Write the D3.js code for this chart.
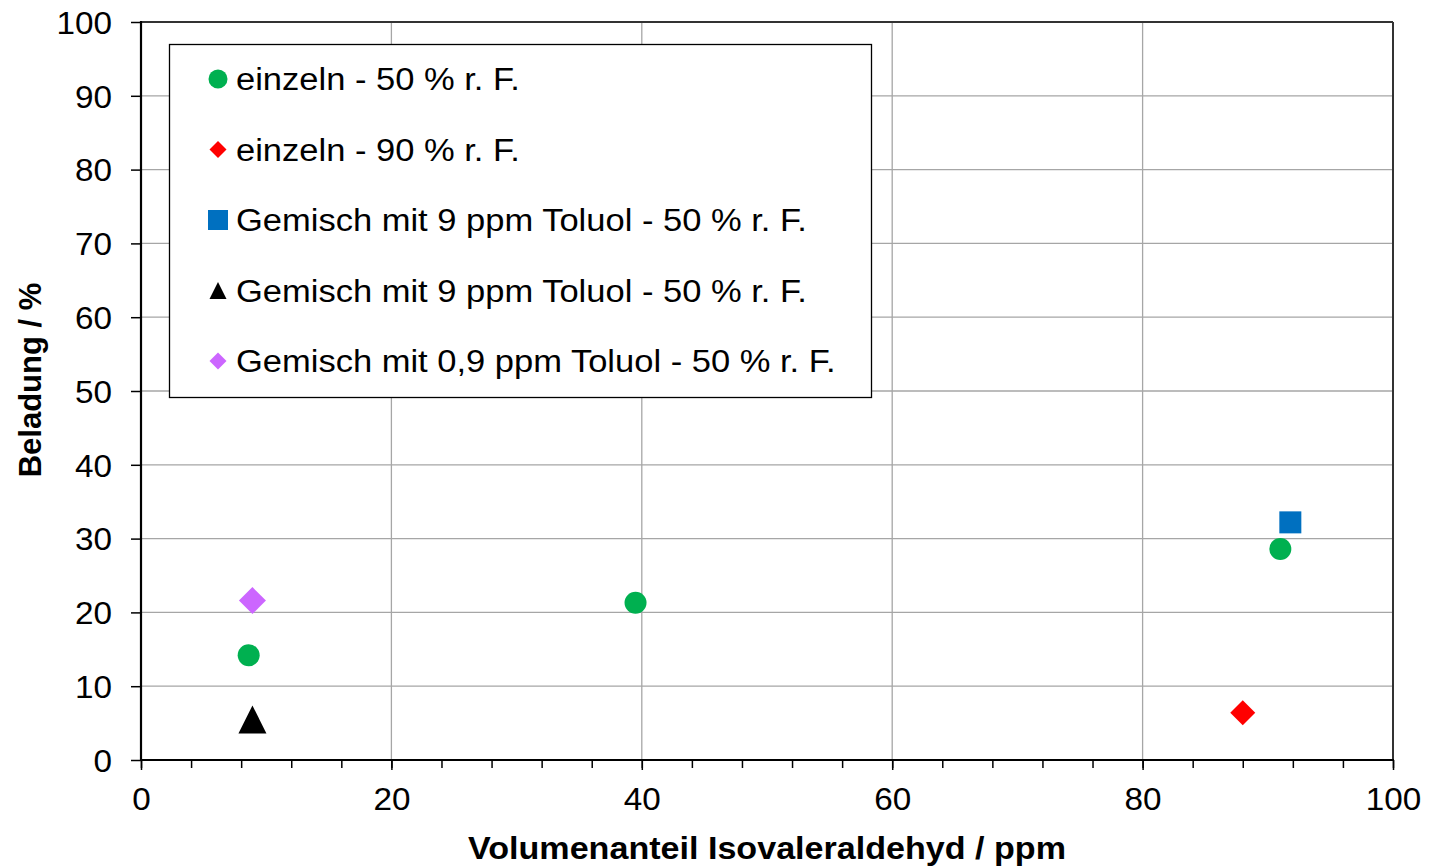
<!DOCTYPE html>
<html>
<head>
<meta charset="utf-8">
<script src="https://cdn.jsdelivr.net/npm/d3@7"></script>
<style>
  body { margin: 0; background: #fff; }
  svg { display: block; font-family: "Liberation Sans", Arial, sans-serif; }
</style>
</head>
<body>
<svg id="chart" width="1429" height="867"></svg>
<script>
// ---- data ----
const seriesNames = [
  "einzeln - 50 % r. F.",
  "einzeln - 90 % r. F.",
  "Gemisch mit 9 ppm Toluol - 50 % r. F.",
  "Gemisch mit 9 ppm Toluol - 50 % r. F.",
  "Gemisch mit 0,9 ppm Toluol - 50 % r. F."
];
const seriesColors = ["#00b050", "#ff0000", "#0070c0", "#000000", "#cc66ff"];
const seriesShapes = ["circle", "diamond", "square", "triangle", "diamond"];
const einzeln50 = [[8.6, 14.2], [39.5, 21.3], [91.0, 28.6]];
const einzeln90 = [[88.0, 6.4]];
const gemisch9blue = [[91.8, 32.2]];
const gemisch9black = [[8.9, 5.5]];
const gemisch09 = [[8.9, 21.6]];
const seriesData = [einzeln50, einzeln90, gemisch9blue, gemisch9black, gemisch09];
const xTicks = [0, 20, 40, 60, 80, 100];
const yTicks = [0, 10, 20, 30, 40, 50, 60, 70, 80, 90, 100];
const xMinorTicks = d3.range(0, 101, 4);
const xTitle = "Volumenanteil Isovaleraldehyd / ppm";
const yTitle = "Beladung / %";

// ---- layout ----
const svg = d3.select("#chart");
const L = 141, R = 1393, T = 22, B = 760;
const x = d3.scaleLinear().domain([0, 100]).range([L, R]);
const y = d3.scaleLinear().domain([0, 100]).range([B, T]);

function stretch(sel, factor) {
  sel.each(function () {
    const w = this.getComputedTextLength();
    d3.select(this).attr("textLength", w * factor).attr("lengthAdjust", "spacingAndGlyphs");
  });
}

// grid
svg.append("g").selectAll("line").data(yTicks.filter(d => d > 0 && d < 100)).join("line")
  .attr("x1", L).attr("x2", R).attr("y1", d => y(d)).attr("y2", d => y(d))
  .attr("stroke", "#a6a6a6").attr("stroke-width", 1.3);
svg.append("g").selectAll("line").data(xTicks.filter(d => d > 0 && d < 100)).join("line")
  .attr("y1", T).attr("y2", B).attr("x1", d => x(d)).attr("x2", d => x(d))
  .attr("stroke", "#a6a6a6").attr("stroke-width", 1.3);

// plot frame (top/right)
svg.append("line").attr("x1", L).attr("x2", R).attr("y1", T).attr("y2", T)
  .attr("stroke", "#333").attr("stroke-width", 2);
svg.append("line").attr("x1", R).attr("x2", R).attr("y1", T).attr("y2", B)
  .attr("stroke", "#333").attr("stroke-width", 2);

// axes
const xAxis = svg.append("g").attr("transform", `translate(0,${B})`)
  .call(d3.axisBottom(x).tickValues(xMinorTicks).tickSize(8).tickFormat(""));
xAxis.select(".domain").remove();
xAxis.selectAll("line").attr("stroke", "#000").attr("stroke-width", 1.5);
const xAxisMaj = svg.append("g").attr("transform", `translate(0,${B})`)
  .call(d3.axisBottom(x).tickValues(xTicks).tickSize(10).tickPadding(17).tickFormat(d3.format("d")));
xAxisMaj.select(".domain").remove();
xAxisMaj.selectAll("line").attr("stroke", "#000").attr("stroke-width", 1.5);
xAxisMaj.selectAll("text").attr("font-size", 32).attr("fill", "#000")
  .attr("font-family", "'Liberation Sans', Arial, sans-serif");
stretch(xAxisMaj.selectAll("text"), 1.04);

const yAxis = svg.append("g").attr("transform", `translate(${L},0)`)
  .call(d3.axisLeft(y).tickValues(yTicks).tickSize(10).tickPadding(19).tickFormat(d3.format("d")));
yAxis.select(".domain").remove();
yAxis.selectAll("line").attr("stroke", "#000").attr("stroke-width", 1.5);
yAxis.selectAll("text").attr("font-size", 32).attr("fill", "#000")
  .attr("font-family", "'Liberation Sans', Arial, sans-serif").attr("dy", "0.35em");
stretch(yAxis.selectAll("text"), 1.04);

svg.append("line").attr("x1", L).attr("x2", R + 1).attr("y1", B).attr("y2", B)
  .attr("stroke", "#000").attr("stroke-width", 2.2);
svg.append("line").attr("x1", L).attr("x2", L).attr("y1", T - 1).attr("y2", B)
  .attr("stroke", "#000").attr("stroke-width", 2.2);

// titles
svg.append("text").attr("x", 767).attr("y", 859).attr("text-anchor", "middle")
  .attr("font-size", 31).attr("font-weight", "bold").attr("fill", "#000")
  .attr("textLength", 598).attr("lengthAdjust", "spacingAndGlyphs")
  .text(xTitle);
svg.append("text").attr("transform", "translate(41,380) rotate(-90)").attr("text-anchor", "middle")
  .attr("font-size", 31).attr("font-weight", "bold").attr("fill", "#000")
  .text(yTitle);

// marker drawing
function marker(g, shape, color, s) {
  if (shape === "circle") {
    g.append("circle").attr("r", s / 2).attr("fill", color);
  } else if (shape === "square") {
    g.append("rect").attr("x", -s / 2).attr("y", -s / 2).attr("width", s).attr("height", s).attr("fill", color);
  } else if (shape === "diamond") {
    const h = s / 2;
    g.append("path").attr("d", `M0,${-h}L${h},0L0,${h}L${-h},0Z`).attr("fill", color);
  } else if (shape === "triangle") {
    const h = s / 2;
    g.append("path").attr("d", `M0,${-h}L${h},${h}L${-h},${h}Z`).attr("fill", color);
  }
}
const plotSizes = [22, 25, 22, 28, 27];
seriesData.forEach((data, i) => {
  svg.append("g").selectAll("g").data(data).join("g")
    .attr("transform", d => `translate(${x(d[0])},${y(d[1])})`)
    .each(function () { marker(d3.select(this), seriesShapes[i], seriesColors[i], plotSizes[i]); });
});

// legend
const legend = svg.append("g");
legend.append("rect").attr("x", 169.5).attr("y", 44.5).attr("width", 702).attr("height", 353)
  .attr("fill", "#fff").attr("stroke", "#000").attr("stroke-width", 1.3);
const legSizes = [19, 17, 20, 17, 17];
seriesNames.forEach((name, i) => {
  const cy = 79 + i * 70.5;
  const g = legend.append("g").attr("transform", `translate(218,${cy})`);
  marker(g, seriesShapes[i], seriesColors[i], legSizes[i]);
  const t = legend.append("text").attr("x", 236).attr("y", cy).attr("dy", "0.36em")
    .attr("font-size", 31).attr("fill", "#000").text(name);
  stretch(t, 1.113);
});
</script>
</body>
</html>
